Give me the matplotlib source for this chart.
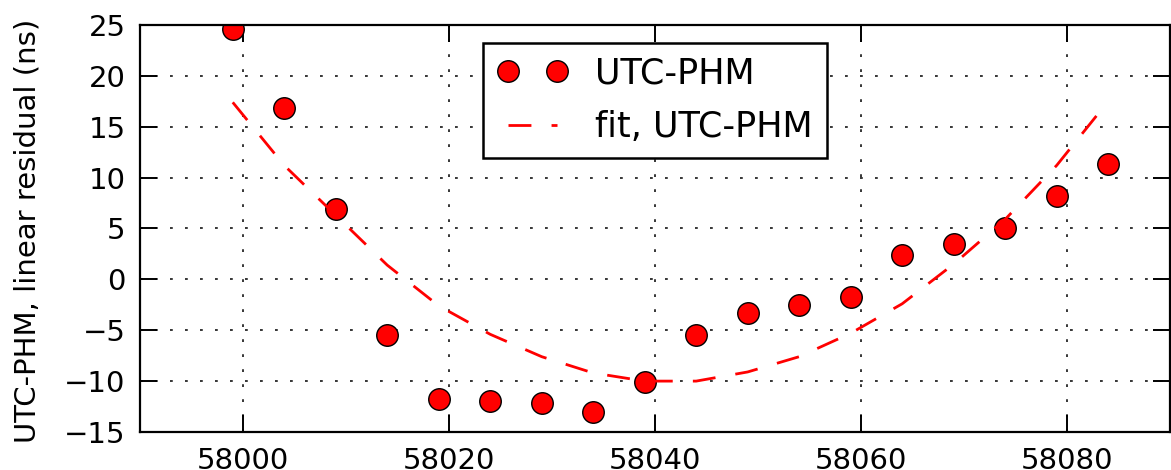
import numpy as np
import matplotlib
matplotlib.use('Agg')
import matplotlib.pyplot as plt

# MJD of each measurement and the residual (ns)
mjd = [57999, 58004, 58009, 58014, 58019, 58024, 58029, 58034, 58039,
       58044, 58049, 58054, 58059, 58064, 58069, 58074, 58079, 58084]
resid = [24.6, 16.8, 6.9, -5.45, -11.8, -12.0, -12.2, -13.05, -10.1,
         -5.45, -3.3, -2.5, -1.75, 2.4, 3.45, 5.0, 8.2, 11.35]
fit = [17.4, 11.2, 6.3, 1.4, -2.6, -5.4, -7.6, -9.2, -10.0,
       -10.0, -9.1, -7.6, -5.3, -2.4, 1.5, 5.9, 11.2, 17.5]

xticks = [58000, 58020, 58040, 58060, 58080]
yticks = [-15, -10, -5, 0, 5, 10, 15, 20, 25]

def main():
    plt.rcParams['lines.scale_dashes'] = False
    fs = 21
    fig = plt.figure(figsize=(11.71, 4.70), dpi=100)
    ax = fig.add_axes([0.1196, 0.0809, 0.8795, 0.8659])

    ax.plot(mjd, resid, 'o', color='red', markersize=15.5,
            markeredgecolor='black', markeredgewidth=1.0, label='UTC-PHM')
    ax.plot(mjd, fit, '--', color='red', linewidth=2.0, dashes=[16.5, 14.5],
            label='fit, UTC-PHM')

    ax.set_xlim(57990, 58090)
    ax.set_ylim(-15, 25)
    ax.set_xticks(xticks)
    ax.set_yticks(yticks)
    ax.grid(True, color='black', linestyle=(0, (2, 8.8)), linewidth=1.1)
    ax.tick_params(direction='in', length=12, width=1.4, top=True, right=True,
                   labelsize=fs, pad=10.5)
    for s in ax.spines.values():
        s.set_linewidth(1.6)
    ax.set_ylabel('UTC-PHM, linear residual (ns)', fontsize=fs)
    ax.yaxis.set_label_coords(-0.096, 0.495)

    leg = ax.legend(loc='upper center', numpoints=2, fontsize=fs * 1.2,
                    fancybox=False, framealpha=1, edgecolor='black',
                    borderaxespad=0.5, handlelength=2.0, handletextpad=0.8,
                    borderpad=0.4, labelspacing=0.55)
    leg.get_frame().set_linewidth(1.8)

    fig.savefig('out.png', dpi=100)

if __name__ == "__main__":
    main()
